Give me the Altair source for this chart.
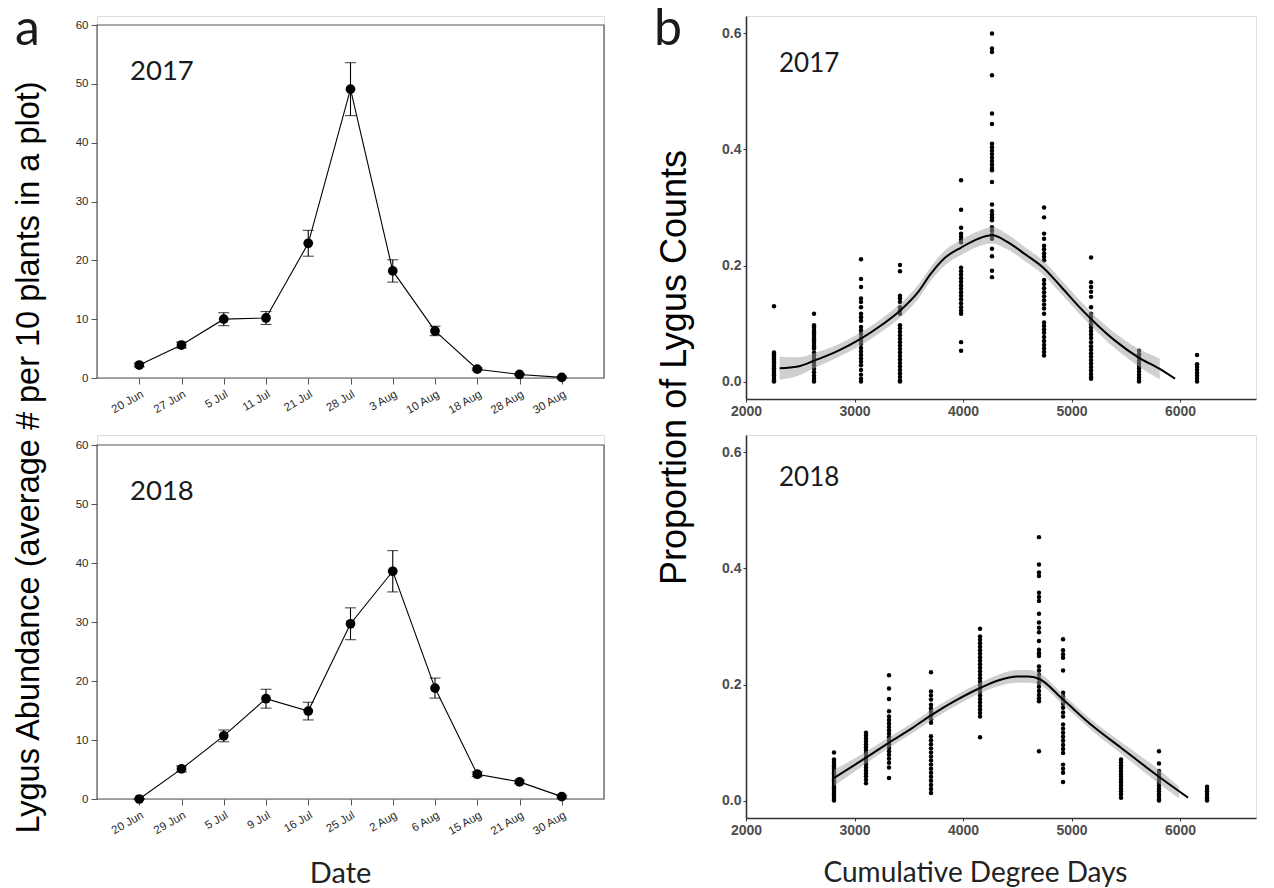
import altair as alt
import pandas as pd

# ---------------- panel a : abundance by date ----------------
dates17 = ["20 Jun", "27 Jun", "5 Jul", "11 Jul", "21 Jul", "28 Jul", "3 Aug", "10 Aug", "18 Aug", "28 Aug", "30 Aug"]
mean17 = [2.2, 5.6, 10.0, 10.2, 22.9, 49.1, 18.2, 8.0, 1.5, 0.6, 0.1]
se17 = [0.3, 0.5, 1.1, 1.1, 2.2, 4.5, 1.9, 0.8, 0.2, 0.1, 0.05]

dates18 = ["20 Jun", "29 Jun", "5 Jul", "9 Jul", "16 Jul", "25 Jul", "2 Aug", "6 Aug", "15 Aug", "21 Aug", "30 Aug"]
mean18 = [0.0, 5.1, 10.7, 17.0, 14.9, 29.7, 38.6, 18.8, 4.2, 2.9, 0.4]
se18 = [0.1, 0.5, 1.0, 1.6, 1.5, 2.7, 3.5, 1.7, 0.4, 0.3, 0.2]

abund_ticks = [0, 10, 20, 30, 40, 50, 60]

# ---------------- panel b : proportion vs degree days ----------------
# 2017 point columns (x = cumulative degree days)
p17_2258 = [0.13, 0.05, 0.047, 0.044, 0.041, 0.038, 0.035, 0.032, 0.029, 0.026, 0.023, 0.02, 0.017, 0.014, 0.011, 0.008, 0.005, 0.002, 0.0]
p17_2627 = [0.117, 0.097, 0.093, 0.089, 0.085, 0.081, 0.077, 0.073, 0.069, 0.065, 0.061, 0.057, 0.05, 0.045, 0.04, 0.036, 0.032, 0.028, 0.022, 0.016, 0.01, 0.005, 0.0]
p17_3060 = [0.211, 0.177, 0.163, 0.143, 0.137, 0.128, 0.117, 0.111, 0.105, 0.094, 0.088, 0.082, 0.075, 0.07, 0.065, 0.058, 0.052, 0.046, 0.04, 0.034, 0.028, 0.02, 0.012, 0.005, 0.0]
p17_3419 = [0.201, 0.19, 0.148, 0.143, 0.137, 0.128, 0.122, 0.117, 0.097, 0.092, 0.086, 0.08, 0.074, 0.068, 0.062, 0.056, 0.05, 0.044, 0.038, 0.032, 0.026, 0.02, 0.014, 0.008, 0.002, 0.0]
p17_3982 = [0.347, 0.296, 0.265, 0.255, 0.25, 0.245, 0.24, 0.196, 0.19, 0.184, 0.178, 0.172, 0.166, 0.16, 0.154, 0.148, 0.142, 0.135, 0.128, 0.122, 0.117, 0.068, 0.053]
p17_4267 = [0.6, 0.574, 0.568, 0.528, 0.462, 0.444, 0.41, 0.404, 0.398, 0.392, 0.386, 0.38, 0.374, 0.368, 0.364, 0.344, 0.305, 0.294, 0.288, 0.283, 0.278, 0.266, 0.26, 0.253, 0.246, 0.229, 0.216, 0.191, 0.18]
p17_4747 = [0.3, 0.283, 0.255, 0.246, 0.234, 0.228, 0.221, 0.215, 0.209, 0.175, 0.168, 0.161, 0.154, 0.147, 0.14, 0.133, 0.126, 0.117, 0.102, 0.096, 0.09, 0.084, 0.077, 0.07, 0.063, 0.057, 0.051, 0.045]
p17_5180 = [0.214, 0.171, 0.163, 0.155, 0.146, 0.128, 0.117, 0.111, 0.105, 0.099, 0.093, 0.087, 0.081, 0.075, 0.068, 0.061, 0.055, 0.049, 0.043, 0.037, 0.031, 0.025, 0.019, 0.013, 0.008, 0.005]
p17_5622 = [0.053, 0.047, 0.042, 0.037, 0.032, 0.027, 0.022, 0.017, 0.012, 0.007, 0.003, 0.0]
p17_6157 = [0.046, 0.03, 0.025, 0.02, 0.015, 0.01, 0.005, 0.0]

# 2018 point columns
p18_2811 = [0.083, 0.071, 0.067, 0.063, 0.059, 0.055, 0.051, 0.047, 0.043, 0.039, 0.035, 0.031, 0.027, 0.023, 0.019, 0.015, 0.011, 0.007, 0.003, 0.0]
p18_3106 = [0.117, 0.112, 0.107, 0.102, 0.097, 0.092, 0.087, 0.082, 0.077, 0.072, 0.067, 0.062, 0.057, 0.052, 0.047, 0.042, 0.036, 0.03]
p18_3318 = [0.216, 0.193, 0.175, 0.154, 0.145, 0.139, 0.133, 0.127, 0.121, 0.115, 0.109, 0.103, 0.097, 0.091, 0.085, 0.079, 0.072, 0.065, 0.057, 0.039]
p18_3705 = [0.221, 0.188, 0.181, 0.174, 0.165, 0.159, 0.153, 0.147, 0.14, 0.134, 0.111, 0.104, 0.097, 0.09, 0.083, 0.076, 0.069, 0.062, 0.055, 0.048, 0.041, 0.034, 0.027, 0.02, 0.013]
p18_4157 = [0.296, 0.283, 0.277, 0.271, 0.265, 0.259, 0.253, 0.247, 0.241, 0.235, 0.229, 0.223, 0.217, 0.211, 0.205, 0.199, 0.193, 0.187, 0.181, 0.175, 0.169, 0.163, 0.157, 0.151, 0.145, 0.109]
p18_4700 = [0.454, 0.407, 0.393, 0.387, 0.358, 0.351, 0.344, 0.322, 0.307, 0.298, 0.29, 0.275, 0.26, 0.254, 0.249, 0.231, 0.224, 0.217, 0.21, 0.203, 0.196, 0.189, 0.182, 0.176, 0.171, 0.085]
p18_4922 = [0.278, 0.259, 0.252, 0.246, 0.224, 0.186, 0.18, 0.174, 0.167, 0.16, 0.152, 0.145, 0.131, 0.124, 0.117, 0.11, 0.103, 0.096, 0.089, 0.082, 0.062, 0.055, 0.048, 0.032]
p18_5456 = [0.071, 0.066, 0.061, 0.056, 0.051, 0.046, 0.041, 0.036, 0.031, 0.026, 0.021, 0.016, 0.011, 0.005]
p18_5806 = [0.085, 0.064, 0.051, 0.046, 0.041, 0.036, 0.031, 0.026, 0.021, 0.016, 0.011, 0.006, 0.002, 0.0]
p18_6249 = [0.024, 0.02, 0.016, 0.012, 0.008, 0.004, 0.0]

# smoothed (LOESS) curves
sm17_x = [2310, 2479, 2627, 2848, 3060, 3247, 3419, 3585, 3704, 3831, 3982, 4138, 4267, 4415, 4568, 4747, 4906, 5060, 5180, 5398, 5622, 5813, 5954]
sm17_y = [0.023, 0.026, 0.036, 0.053, 0.074, 0.097, 0.122, 0.154, 0.186, 0.213, 0.231, 0.246, 0.252, 0.240, 0.220, 0.195, 0.163, 0.131, 0.108, 0.071, 0.041, 0.022, 0.005]
band17_x = [2310, 2479, 2627, 2848, 3060, 3247, 3419, 3585, 3704, 3831, 3982, 4138, 4267, 4415, 4568, 4747, 4906, 5060, 5180, 5398, 5622, 5813]
band17_lo = [0.003, 0.010, 0.023, 0.042, 0.063, 0.086, 0.110, 0.142, 0.174, 0.200, 0.218, 0.233, 0.238, 0.227, 0.208, 0.183, 0.151, 0.119, 0.096, 0.058, 0.026, 0.004]
band17_hi = [0.043, 0.042, 0.049, 0.064, 0.085, 0.108, 0.134, 0.166, 0.198, 0.226, 0.244, 0.259, 0.266, 0.253, 0.232, 0.207, 0.175, 0.143, 0.120, 0.084, 0.056, 0.040]

sm18_x = [2811, 3106, 3318, 3524, 3705, 3938, 4157, 4323, 4500, 4599, 4700, 4922, 5198, 5456, 5806, 6074]
sm18_y = [0.039, 0.074, 0.100, 0.124, 0.147, 0.173, 0.194, 0.207, 0.214, 0.214, 0.210, 0.174, 0.128, 0.091, 0.041, 0.005]
band18_x = [2811, 3106, 3318, 3524, 3705, 3938, 4157, 4323, 4500, 4599, 4700, 4922, 5198, 5456, 5806, 5990]
band18_lo = [0.025, 0.064, 0.091, 0.115, 0.138, 0.164, 0.185, 0.197, 0.203, 0.203, 0.200, 0.165, 0.119, 0.081, 0.029, 0.004]
band18_hi = [0.053, 0.084, 0.109, 0.133, 0.156, 0.182, 0.203, 0.217, 0.225, 0.225, 0.220, 0.183, 0.137, 0.101, 0.053, 0.024]

prop_ticks = [0.0, 0.2, 0.4, 0.6]
dd_ticks = [2000, 3000, 4000, 5000, 6000]

# ---------------- geometry ----------------
LW = 507          # left plot width
RW = 510          # right plot width
TL_H, TL_OFF = 362, 9
BL_H, BL_OFF = 364, 10
R_H = 383

FRAME = "#555555"
AX_TXT = "#2a2a2a"


def txt(s, x, y, size, font="Lato", color="#1a1a1a"):
    return alt.Chart(pd.DataFrame({"t": [s]})).mark_text(
        font=font, fontSize=size, align="left", baseline="alphabetic", color=color
    ).encode(text="t:N", x=alt.value(x), y=alt.value(y))


def left_panel(dates, mean, se, year, height, off, ytitle, xtitle, label=None):
    df = pd.DataFrame({
        "date": dates,
        "mean": mean,
        "lo": [m - s for m, s in zip(mean, se)],
        "hi": [m + s for m, s in zip(mean, se)],
    })
    top = 60 * height / (height - off)
    yscale = alt.Scale(domain=[0, top], nice=False, zero=True)
    yaxis_kw = dict(values=abund_ticks, domain=False, grid=False, tickSize=6, tickColor=FRAME,
                    labelFont="Liberation Sans", labelFontSize=11.5, labelColor=AX_TXT, labelPadding=3)
    if ytitle:
        yaxis_kw.update(title=ytitle, titleFont="Liberation Sans", titleFontSize=32.5,
                        titleFontWeight="normal", titleColor="black", titleAngle=270,
                        titleAlign="center", titleBaseline="middle", titleX=-69, titleY=441)
    else:
        yaxis_kw.update(title=None)
    yaxis = alt.Axis(**yaxis_kw)

    xaxis_kw = dict(labelAngle=-30, labelAlign="right", labelBaseline="top", domain=False, grid=False,
                    tickSize=6, tickColor=FRAME, labelFont="Liberation Sans", labelFontSize=11.5,
                    labelColor=AX_TXT, labelPadding=4)
    if xtitle:
        xaxis_kw.update(title=xtitle, titleFont="Lato", titleFontSize=29, titleFontWeight="normal",
                        titleColor="#222222", titleX=243, titleY=74, titleAlign="center",
                        titleBaseline="middle")
    else:
        xaxis_kw.update(title=None)
    xaxis = alt.Axis(**xaxis_kw)

    x = alt.X("date:N", sort=dates, scale=alt.Scale(type="point", padding=1), axis=xaxis)
    base = alt.Chart(df)
    frame = alt.Chart(pd.DataFrame({"f": [0]})).mark_rect(
        fillOpacity=0, stroke=FRAME, strokeWidth=1.2
    ).encode(x=alt.value(0), x2=alt.value(LW), y=alt.value(off), y2=alt.value(height))
    line = base.mark_line(color="black", strokeWidth=1.1).encode(
        x=x, y=alt.Y("mean:Q", scale=yscale, axis=yaxis))
    rule = base.mark_rule(color="black", strokeWidth=1.1).encode(
        x=x, y=alt.Y("lo:Q", scale=yscale, axis=yaxis), y2="hi:Q")
    cap_lo = base.mark_tick(color="black", size=11, thickness=1.1).encode(
        x=x, y=alt.Y("lo:Q", scale=yscale, axis=yaxis))
    cap_hi = base.mark_tick(color="black", size=11, thickness=1.1).encode(
        x=x, y=alt.Y("hi:Q", scale=yscale, axis=yaxis))
    pts = base.mark_circle(color="black", size=95, opacity=1).encode(
        x=x, y=alt.Y("mean:Q", scale=yscale, axis=yaxis))
    layers = [frame, line, rule, cap_lo, cap_hi, pts, txt(year, 33, off + 55, 27.5)]
    if label:
        layers.append(txt(label, -82, 29, 50))
    return alt.layer(*layers).properties(width=LW, height=height)


def right_panel(cols, sm_x, sm_y, bx, blo, bhi, year, ytitle, xtitle, label=None):
    xs, ys = [], []
    for dd, vals in cols:
        xs += [dd] * len(vals)
        ys += vals
    pts_df = pd.DataFrame({"dd": xs, "p": ys})
    sm_df = pd.DataFrame({"dd": sm_x, "p": sm_y})
    band_df = pd.DataFrame({"dd": bx, "lo": blo, "hi": bhi})

    xscale = alt.Scale(domain=[2000, 6700], nice=False, zero=False)
    yscale = alt.Scale(domain=[-0.03, 0.63], nice=False, zero=False)
    common = dict(grid=False, domainColor="#333333", domainWidth=1.6, tickColor="#333333",
                  tickSize=3, labelFont="Liberation Sans", labelFontWeight="bold",
                  labelFontSize=14, labelColor="#4d4d4d", labelPadding=2, labelFlush=False)
    xkw = dict(common, values=dd_ticks, format="d")
    if xtitle:
        xkw.update(title=xtitle, titleFont="Lato", titleFontSize=28, titleFontWeight="normal",
                   titleColor="#222222", titleX=229, titleY=55, titleAlign="center",
                   titleBaseline="middle")
    else:
        xkw.update(title=None)
    ykw = dict(common, values=prop_ticks, format=".1f")
    if ytitle:
        ykw.update(title=ytitle, titleFont="Liberation Sans", titleFontSize=36,
                   titleFontWeight="normal", titleColor="black", titleAngle=270,
                   titleAlign="center", titleBaseline="middle", titleX=-72, titleY=351)
    else:
        ykw.update(title=None)
    xaxis = alt.Axis(**xkw)
    yaxis = alt.Axis(**ykw)

    pts = alt.Chart(pts_df).mark_circle(color="black", size=20, opacity=1).encode(
        x=alt.X("dd:Q", scale=xscale, axis=xaxis), y=alt.Y("p:Q", scale=yscale, axis=yaxis))
    band = alt.Chart(band_df).mark_area(color="#a0a0a0", opacity=0.5, interpolate="monotone").encode(
        x=alt.X("dd:Q", scale=xscale, axis=xaxis), y=alt.Y("lo:Q", scale=yscale, axis=yaxis), y2="hi:Q")
    line = alt.Chart(sm_df).mark_line(color="black", strokeWidth=2, interpolate="monotone").encode(
        x=alt.X("dd:Q", scale=xscale, axis=xaxis), y=alt.Y("p:Q", scale=yscale, axis=yaxis))
    layers = [pts, band, line, txt(year, 33, 56 if label else 51, 26)]
    if label:
        layers.append(txt(label, -92, 29, 50))
    return alt.layer(*layers).properties(width=RW, height=R_H)


tl = left_panel(dates17, mean17, se17, "2017", TL_H, TL_OFF,
                "Lygus Abundance (average # per 10 plants in a plot)", None, label="a")
bl = left_panel(dates18, mean18, se18, "2018", BL_H, BL_OFF, None, "Date")

cols17 = [(2258, p17_2258), (2627, p17_2627), (3060, p17_3060), (3419, p17_3419), (3982, p17_3982),
          (4267, p17_4267), (4747, p17_4747), (5180, p17_5180), (5622, p17_5622), (6157, p17_6157)]
cols18 = [(2811, p18_2811), (3106, p18_3106), (3318, p18_3318), (3705, p18_3705), (4157, p18_4157),
          (4700, p18_4700), (4922, p18_4922), (5456, p18_5456), (5806, p18_5806), (6249, p18_6249)]

tr = right_panel(cols17, sm17_x, sm17_y, band17_x, band17_lo, band17_hi, "2017",
                 "Proportion of Lygus Counts", None, label="b")
br = right_panel(cols18, sm18_x, sm18_y, band18_x, band18_lo, band18_hi, "2018",
                 None, "Cumulative Degree Days")

chart = alt.concat(tl, tr, bl, br, columns=2, bounds="flush",
                   spacing=alt.RowColnumber(row=36, column=142)).properties(
    autosize=alt.AutoSizeParams(type="none"),
    padding={"left": 89, "top": 8, "right": 1169, "bottom": 872},
).configure_view(stroke=None).configure(background="white")

chart.save("out.html", embed_options={"renderer": "svg", "actions": False})
